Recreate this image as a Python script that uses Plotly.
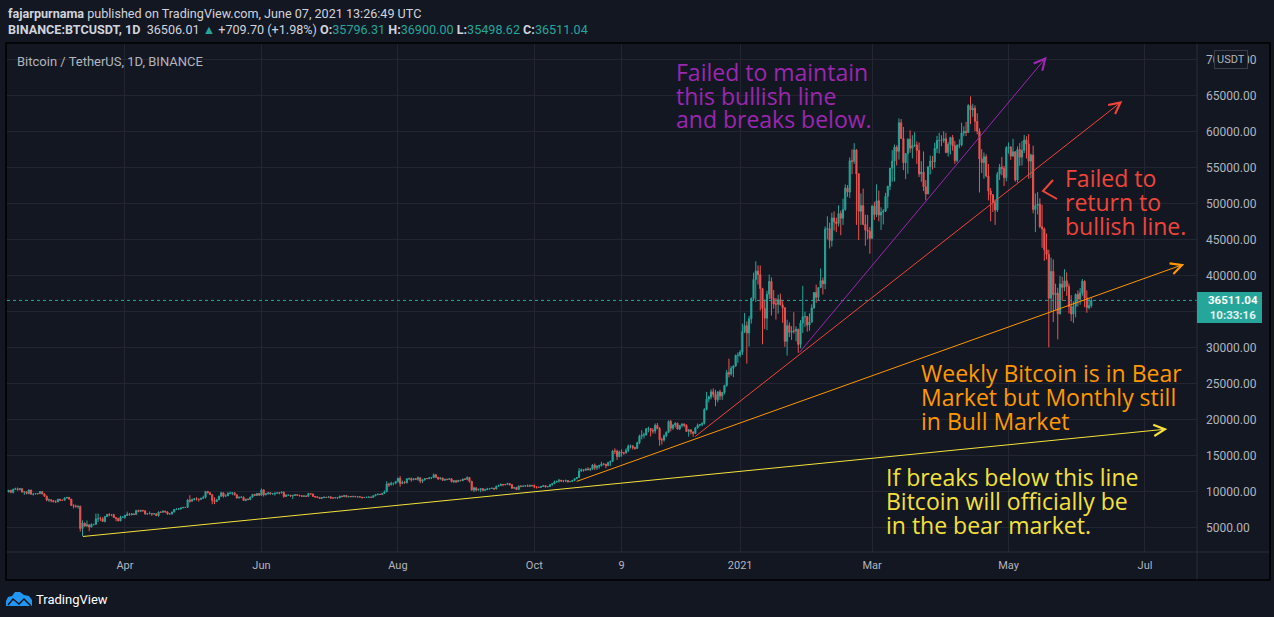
import pandas as pd
import plotly.graph_objects as go

# BINANCE:BTCUSDT daily candles, 2020-02-09 .. 2021-06-07
first_open = 9900

close_2020 = [
    10150, 9860, 10270, 10350, 10240, 10370, 9900, 9930, 9700, 10180, 9600, 9610, 9690, 9670, 9970, 9650, 9320, 8790, 8810, 8710, 8530,
    8520, 8910, 8760, 8750, 9070, 9160, 8910, 8030, 7930, 7890, 7940, 4830, 5580, 5170, 5360, 5030, 5390, 5410, 6160, 6200, 6190, 5820, 6480, 6770, 6700, 6740, 6350, 6250, 5880, 6390, 6410,
    6640, 6800, 6730, 6860, 6770, 7340, 7200, 7370, 7300, 6860, 6890, 6910, 6860, 6870, 6620, 7120, 7100, 7260, 7130, 6840, 6850, 7130, 7480, 7510, 7540, 7700, 7770, 7760, 8780, 8620,
    8830, 8970, 8900, 8880, 9030, 9150, 9990, 9810, 9540, 8730, 8560, 8810, 9310, 9790, 9320, 9380, 9680, 9730, 9790, 9510, 9060, 9170, 9180, 8720, 8900, 8840, 9200, 9580, 9430, 9700, 9450,
    10200, 9520, 9670, 9790, 9620, 9670, 9750, 9780, 9770, 9880, 9270, 9470, 9470, 9340, 9430, 9520, 9460, 9390, 9310, 9360, 9290, 9690, 9630, 9300, 9240, 9160, 9010, 9120, 9190, 9140,
    9230, 9090, 9060, 9130, 9080, 9340, 9250, 9430, 9230, 9290, 9240, 9300, 9240, 9250, 9200, 9130, 9150, 9170, 9210, 9160, 9390, 9540, 9610, 9550, 9710, 9930, 11030, 10910, 11100, 11110, 11350,
    11800, 11070, 11230, 11190, 11740, 11760, 11600, 11750, 11680, 11880, 11400, 11580, 11780, 11770, 11860, 11910, 12290, 11960, 11730, 11860, 11520, 11680, 11650, 11750, 11330, 11460, 11320, 11530, 11470, 11710, 11660,
    11920, 11390, 10170, 10470, 10170, 10250, 10370, 10130, 10230, 10340, 10390, 10440, 10330, 10680, 10790, 10950, 10940, 10930, 11080, 10920, 10420, 10540, 10240, 10750, 10700, 10730, 10770, 10690, 10840, 10780,
    10620, 10570, 10550, 10670, 10790, 10600, 10670, 10920, 11050, 11300, 11380, 11540, 11430, 11430, 11500, 11320, 11370, 11510, 11750, 11910, 12820, 12990, 12930, 13110, 13030, 13070, 13640, 13280, 13460, 13560, 13800,
    13760, 13550, 14030, 14150, 15590, 15580, 14830, 15480, 15330, 15310, 15700, 16290, 16320, 16070, 15960, 16730, 17660, 17800, 17820, 18680, 18710, 18420, 18370, 19160, 18720, 17150, 17140, 17720, 18180, 19700,
    18770, 19220, 19450, 18650, 19150, 19360, 19170, 18320, 18550, 18250, 18040, 18800, 19170, 19270, 19430, 21340, 22800, 23110, 23820, 23460, 22720, 23820, 23240, 23730, 24710, 26490, 26280, 27080, 27390, 28880, 28920,
]
high_2020 = [
    10180, 10170, 10390, 10500, 10520, 10390, 10380, 10050, 9970, 10250, 10200, 9700, 9740, 9720, 10000, 9980, 9680, 9390, 8990, 8890, 8800,
    8750, 8930, 8930, 8840, 9160, 9190, 9170, 8940, 8200, 8150, 7990, 7970, 5960, 5650, 5940, 5370, 5550, 5450, 6900, 6900, 6460, 6390, 6590, 6860, 6960, 6780, 6880, 6360, 6270, 6600, 6520,
    6740, 7170, 7000, 6990, 6910, 7380, 7460, 7390, 7380, 7330, 6940, 7190, 6910, 6990, 6930, 7200, 7150, 7300, 7270, 7220, 6950, 7160, 7540, 7620, 7690, 7720, 7800, 7800, 8950, 9460,
    9000, 9010, 9190, 8960, 9100, 9400, 10000, 10030, 9920, 9580, 9170, 8950, 9400, 9930, 9850, 9590, 9890, 9950, 9900, 9840, 9560, 9270, 9310, 9300, 8980, 9010, 9230, 9620, 9600, 9740, 9700,
    10390, 10230, 9680, 9880, 9850, 9730, 9800, 9810, 9880, 9990, 9960, 9560, 9500, 9490, 9500, 9590, 9550, 9480, 9440, 9400, 9410, 9780, 9690, 9680, 9330, 9290, 9200, 9200, 9240, 9200,
    9300, 9270, 9130, 9200, 9140, 9370, 9370, 9450, 9440, 9310, 9300, 9340, 9340, 9280, 9280, 9210, 9190, 9200, 9240, 9220, 9420, 9560, 9650, 9630, 9750, 10110, 11400, 11200, 11330, 11180, 11450,
    11900, 12120, 11480, 11420, 11790, 11900, 11920, 11810, 11810, 12080, 11950, 11680, 11800, 11840, 11980, 11940, 12480, 12400, 12000, 11890, 11880, 11700, 11720, 11810, 11780, 11540, 11590, 11560, 11600, 11730, 11800,
    12070, 11950, 11460, 10650, 10580, 10380, 10390, 10440, 10350, 10480, 10400, 10480, 10460, 10800, 10940, 11100, 11030, 11040, 11190, 11080, 10990, 10570, 10560, 10780, 10770, 10780, 10800, 10950, 10860, 10850,
    10950, 10670, 10600, 10690, 10800, 10800, 10690, 10950, 11100, 11490, 11440, 11720, 11560, 11560, 11630, 11540, 11420, 11520, 11820, 11960, 13220, 13170, 13020, 13150, 13350, 13250, 13790, 13860, 13640, 13690, 14100,
    13900, 13820, 14070, 14250, 15750, 15970, 15770, 15650, 15840, 15480, 15970, 16480, 16480, 16350, 16180, 16880, 17860, 18480, 18140, 18770, 18960, 18750, 18770, 19420, 19480, 18920, 17450, 17890, 18340, 19860,
    19920, 19300, 19600, 19520, 19160, 19420, 19400, 19290, 18640, 18550, 18300, 18950, 19410, 19350, 19570, 21560, 23800, 23290, 24170, 24300, 24100, 23840, 24100, 23800, 24790, 26870, 28420, 27390, 27500, 28990, 29300,
]
low_2020 = [
    9860, 9730, 9700, 10210, 10090, 10150, 9820, 9500, 9580, 9580, 9560, 9410, 9570, 9570, 9630, 9560, 9250, 8620, 8530, 8470, 8500,
    8410, 8500, 8610, 8650, 8740, 9010, 8860, 8000, 7630, 7730, 7590, 4410, 3780, 5080, 5100, 4440, 5000, 5250, 5350, 5740, 5870, 5770, 5690, 6450, 6530, 6540, 6300, 5860, 5860, 5870, 6310,
    6170, 6600, 6650, 6680, 6740, 6760, 7090, 7110, 7170, 6750, 6770, 6790, 6580, 6780, 6600, 6470, 7010, 7050, 7070, 6750, 6790, 6790, 7070, 7420, 7450, 7500, 7650, 7690, 7720, 8420,
    8620, 8760, 8710, 8560, 8780, 8940, 9000, 9690, 9520, 8200, 8220, 8540, 8790, 9250, 9130, 9260, 9380, 9610, 9460, 9420, 8980, 9040, 9080, 8720, 8630, 8830, 8840, 9110, 9340, 9360, 9390,
    9410, 9260, 9450, 9530, 9570, 9530, 9400, 9640, 9580, 9720, 9100, 9240, 9390, 9250, 8920, 9370, 9390, 9280, 9220, 9200, 9280, 9280, 9560, 9210, 9080, 9050, 8990, 8950, 9070, 9080,
    9130, 8940, 9000, 9050, 8920, 9080, 9220, 9220, 9160, 9160, 9200, 9190, 9200, 9100, 9150, 9000, 9090, 9120, 9100, 9130, 9140, 9300, 9450, 9500, 9540, 9640, 9920, 10600, 10830, 10820, 10980,
    11220, 10650, 11020, 11070, 11090, 11550, 11330, 11530, 11560, 11460, 11120, 11150, 11500, 11680, 11680, 11690, 11830, 11820, 11560, 11650, 11500, 11520, 11530, 11590, 11240, 11140, 11150, 11300, 11430, 11460, 11600,
    11520, 11210, 10080, 9900, 10000, 10130, 9880, 9990, 10110, 10220, 10220, 10320, 10220, 10270, 10650, 10740, 10700, 10830, 10880, 10800, 10380, 10360, 10200, 10190, 10550, 10650, 10620, 10640, 10640, 10670,
    10440, 10380, 10480, 10490, 10620, 10530, 10580, 10620, 10790, 11050, 11200, 11220, 11290, 11250, 11260, 11220, 11300, 11330, 11400, 11680, 11900, 12720, 12730, 12890, 12880, 12810, 13000, 12940, 12980, 13140, 13430,
    13600, 13200, 13530, 13520, 14090, 15180, 14340, 14700, 14810, 15080, 15270, 15440, 15950, 15800, 15770, 15880, 16550, 17210, 17340, 17760, 18190, 17610, 18000, 18020, 18600, 16320, 16510, 16900, 17520, 18170,
    18320, 18530, 18860, 18580, 18500, 18860, 18900, 18220, 17600, 17910, 17570, 18020, 18730, 19000, 19050, 19280, 21240, 22350, 22770, 23060, 21820, 22350, 22700, 22700, 23450, 24500, 25820, 26060, 25850, 27320, 27850,
]

close_2021 = [
    29330, 32180, 33000, 31990, 33950, 36770, 39430, 40580, 40090, 38150, 35400, 34050, 37370, 39150, 36770, 36010, 35990, 36630, 35890, 35470, 30830, 33000, 32080, 32260, 32250, 32510, 30400, 33380, 34250, 34260, 33090,
    33500, 35470, 37620, 36940, 38290, 39260, 38830, 46400, 46490, 44840, 47970, 47410, 47190, 48580, 47930, 49150, 52120, 51550, 55910, 55840, 57410, 54090, 48890, 49680, 47070, 46280, 46110, 45140,
    49590, 48440, 50350, 48370, 48750, 48880, 50970, 52380, 54880, 55860, 57800, 57220, 61190, 59000, 55630, 56900, 58910, 57650, 58030, 58100, 57350, 54080, 54340, 52300, 51290, 55070, 55860, 55780, 57630, 58730, 58740,
    58720, 58970, 57060, 58200, 59130, 57990, 55950, 58080, 58090, 59780, 59990, 59830, 63580, 62960, 63200, 61380, 60000, 56150, 55660, 56470, 53800, 51700, 51190, 50100, 49070, 54030, 55030, 54820, 53560, 57700,
    57800, 56580, 57170, 53240, 57480, 56410, 57350, 58800, 58230, 55860, 56700, 49150, 49700, 49900, 46760, 46430, 43540, 42910, 36830, 40540, 37300, 37530, 34650, 38800, 38320, 39240, 38440, 35660, 34610, 35680, 37340,
    36690, 37570, 39190, 36850, 35520, 35796.31, 36511.04,
]
high_2021 = [
    29600, 33300, 34780, 33600, 34360, 36940, 40360, 41950, 41380, 41350, 38260, 36630, 37850, 40100, 39700, 37950, 36850, 37300, 37450, 36400, 35600, 33830, 33460, 32940, 34880, 32920, 32560, 33780, 38530, 34930, 34340,
    34720, 35980, 37660, 38710, 38310, 40950, 39700, 46780, 48200, 47310, 48680, 48880, 48000, 49710, 49000, 50650, 52620, 52530, 56370, 57490, 58350, 57530, 54180, 51370, 52040, 48420, 48390, 46700,
    49790, 50200, 52640, 51770, 49450, 49200, 51450, 52400, 54900, 57390, 58150, 58060, 61790, 61700, 60600, 56940, 58980, 60130, 59450, 59880, 58590, 58430, 55850, 57200, 53230, 55120, 56640, 56560, 58400, 59370, 59800,
    59460, 60000, 59790, 58500, 59250, 59480, 58650, 58150, 58880, 61200, 60690, 61300, 63770, 64850, 63820, 63600, 62500, 60400, 57520, 57050, 56800, 55460, 52130, 51230, 50550, 54360, 55460, 56430, 55200, 57960,
    58460, 57950, 58970, 57200, 57900, 58360, 58650, 59500, 59300, 59600, 56900, 58000, 51370, 51560, 50700, 49800, 46640, 45800, 43550, 42460, 42200, 38830, 38270, 39920, 39800, 40840, 40410, 38870, 37240, 36400, 37470,
    37900, 38230, 39480, 39290, 37900, 36790, 36900.00,
]
low_2021 = [
    28620, 28950, 31960, 27730, 30110, 33290, 36570, 36300, 38720, 35110, 30420, 32530, 32380, 36700, 34410, 35360, 33850, 34650, 35850, 33400, 30070, 28850, 31410, 31030, 31910, 30840, 29240, 29850, 31990, 32840, 32170,
    32300, 33420, 35360, 36160, 36570, 38220, 37350, 38060, 45000, 43730, 43990, 46200, 46000, 46790, 45570, 47000, 48950, 50900, 50760, 54050, 55480, 47000, 44890, 47000, 46960, 44110, 45000, 43000,
    45000, 47700, 48100, 47500, 46300, 47070, 48880, 49300, 51830, 53000, 53010, 55260, 56070, 58960, 54600, 53350, 54100, 57030, 56220, 57820, 55470, 53650, 53000, 51700, 50430, 51280, 54000, 54700, 54900, 57000, 56900,
    57930, 58390, 56960, 56500, 56800, 57300, 55470, 55700, 57650, 57900, 59300, 59350, 59800, 61000, 62020, 60000, 59580, 51500, 54200, 53400, 53620, 50400, 47500, 48800, 47000, 48800, 53250, 53880, 52400, 53050,
    56900, 56040, 56440, 53000, 52900, 55200, 55250, 56980, 56230, 53400, 53500, 48600, 46000, 48450, 46550, 43820, 42000, 42200, 30000, 34880, 33500, 35200, 31100, 34580, 36420, 37780, 37150, 34700, 33630, 33380, 34150,
    35670, 35920, 37170, 35570, 34800, 35250, 35498.62,
]

# axis ticks
tick_dates = ["2020-04-01", "2020-06-01", "2020-08-01", "2020-10-01", "2020-11-09",
              "2021-01-01", "2021-03-01", "2021-05-01", "2021-07-01"]
tick_text = ["Apr", "Jun", "Aug", "Oct", "9", "2021", "Mar", "May", "Jul"]
price_ticks = [5000, 10000, 15000, 20000, 25000, 30000, 35000, 40000, 45000,
               50000, 55000, 60000, 65000, 70000]

# drawn trend lines: (start date, start price, end date, end price, colour)
trend_lines = [
    ("2020-03-12 12:00", 3700, "2021-07-11", 18650, "#f5e13b"),
    ("2020-10-19 06:00", 11300, "2021-07-18 14:00", 41550, "#ff9800"),
    ("2020-12-11 05:00", 17440, "2021-06-20 21:00", 64200, "#f0453a"),
    ("2021-01-26 22:00", 29070, "2021-05-18 02:00", 70360, "#9c27b0"),
]

BG = "#131722"
GRID = "#232632"
GREEN = "#26a69a"
RED = "#ef5350"
AXIS_TXT = "#b2b5be"

closes = close_2020 + close_2021
highs = high_2020 + high_2021
lows = low_2020 + low_2021
opens = [first_open] + closes[:-1]
dates = list(pd.date_range("2020-02-09", periods=len(close_2020), freq="D")) + \
        list(pd.date_range("2021-01-01", periods=len(close_2021), freq="D"))

# plot area in pixels
L, T, W, H = 7, 44, 1190, 508


def px(x):
    return (x - L) / W


def py(y):
    return (T + H - y) / H


fig = go.Figure()

fig.add_trace(go.Candlestick(
    x=dates, open=opens, high=highs, low=lows, close=closes,
    increasing=dict(line=dict(color=GREEN, width=1), fillcolor=GREEN),
    decreasing=dict(line=dict(color=RED, width=1), fillcolor=RED),
    whiskerwidth=0, showlegend=False, hoverinfo="skip",
))

fig.update_layout(
    width=1274, height=617,
    margin=dict(l=L, r=1274 - L - W, t=T, b=617 - T - H),
    paper_bgcolor=BG, plot_bgcolor=BG,
    showlegend=False,
    font=dict(family="Roboto", color=AXIS_TXT, size=11),
    xaxis=dict(
        type="date", range=["2020-02-08 06:00", "2021-07-24 06:00"],
        rangeslider=dict(visible=False),
        tickvals=tick_dates, ticktext=tick_text,
        showgrid=True, gridcolor=GRID, gridwidth=1,
        zeroline=False, showline=False, ticks="",
        ticklabelstandoff=5,
        tickfont=dict(family="Roboto", size=11, color=AXIS_TXT),
    ),
    yaxis=dict(
        range=[1570, 72125], side="right",
        tickvals=price_ticks, ticktext=[f"{v:.2f}" for v in price_ticks],
        showgrid=True, gridcolor=GRID, gridwidth=1,
        zeroline=False, showline=False, ticks="",
        ticklabelstandoff=8,
        tickfont=dict(family="Roboto", size=12, color=AXIS_TXT),
    ),
)

# last price dotted line
fig.add_shape(type="line", xref="paper", yref="y", x0=0, x1=1,
              y0=closes[-1], y1=closes[-1],
              line=dict(color=GREEN, width=1, dash="dot"))

# chart frame and axis separators
fig.add_shape(type="line", xref="paper", yref="paper", x0=px(6), x1=px(1270),
              y0=py(552), y1=py(552), line=dict(color="#2a2e39", width=1))
fig.add_shape(type="line", xref="paper", yref="paper", x0=px(1197), x1=px(1197),
              y0=py(43), y1=py(580), line=dict(color="#2a2e39", width=1))
fig.add_shape(type="rect", xref="paper", yref="paper", x0=px(6), x1=px(1270),
              y0=py(43), y1=py(580), line=dict(color="#000000", width=1.5))

# trend lines with arrow heads
for x0, y0, x1, y1, col in trend_lines:
    fig.add_annotation(x=x1, y=y1, ax=x0, ay=y0, xref="x", yref="y",
                       axref="x", ayref="y", text="", showarrow=True,
                       arrowhead=5, arrowsize=2.2, arrowwidth=1, arrowcolor=col)

# annotation texts (left x, baselines in px)
note_font = "Open Sans"
blocks = [
    (["Failed to maintain", "this bullish line", "and breaks below."], 674, [79, 103, 127], "#9c27b0"),
    (["Failed to", "return to", "bullish line."], 1063, [185, 209, 233], "#f0453a"),
    (["Weekly Bitcoin is in Bear", "Market but Monthly still", "in Bull Market"], 919, [380, 404, 428], "#ff9800"),
    (["If breaks below this line", "Bitcoin will officially be", "in the bear market."], 884, [484, 508, 532], "#f5e13b"),
]
for lines, x0, bases, col in blocks:
    for line, b in zip(lines, bases):
        fig.add_annotation(x=px(x0), y=py(b - 7.5), xref="paper", yref="paper",
                           text=line, showarrow=False, xanchor="left", yanchor="middle",
                           font=dict(family=note_font, size=23, color=col))

# small red "<" arrow next to the red text
fig.add_shape(type="path", xref="paper", yref="paper",
              path=f"M{px(1053)},{py(180)} L{px(1043)},{py(191)} L{px(1057)},{py(199)}",
              line=dict(color="#f0453a", width=2))

# header
fig.add_annotation(x=px(6), y=py(13), xref="paper", yref="paper", showarrow=False,
                   xanchor="left", yanchor="middle",
                   text="<b>fajarpurnama</b> published on TradingView.com, June 07, 2021 13:26:49 UTC",
                   font=dict(family="Roboto", size=12.6, color="#d1d4dc"))
g = f"<span style='color:{GREEN}'>"
fig.add_annotation(x=px(6), y=py(29), xref="paper", yref="paper", showarrow=False,
                   xanchor="left", yanchor="middle",
                   text=(f"<b>BINANCE:BTCUSDT, 1D</b>  36506.01 {g}▲</span> +709.70 (+1.98%) "
                         f"<b>O:</b>{g}35796.31</span> <b>H:</b>{g}36900.00</span> "
                         f"<b>L:</b>{g}35498.62</span> <b>C:</b>{g}36511.04</span>"),
                   font=dict(family="Roboto", size=12.6, color="#d1d4dc"))
fig.add_annotation(x=px(15), y=py(61), xref="paper", yref="paper", showarrow=False,
                   xanchor="left", yanchor="middle", text="Bitcoin / TetherUS, 1D, BINANCE",
                   font=dict(family="Roboto", size=13, color=AXIS_TXT))

# price label on the axis
fig.add_shape(type="rect", xref="paper", yref="paper", x0=px(1197), x1=px(1262),
              y0=py(292), y1=py(323), fillcolor=GREEN, line=dict(width=0))
fig.add_annotation(x=px(1206), y=py(307.5), xref="paper", yref="paper", showarrow=False,
                   xanchor="left", yanchor="middle",
                   text="<b>36511.04</b><br><span style='color:#e3f2f1'><b>10:33:16</b></span>",
                   font=dict(family="Roboto", size=11.5, color="#ffffff"))

# currency badge
fig.add_annotation(x=px(1231), y=py(59.5), xref="paper", yref="paper", showarrow=False,
                   xanchor="center", yanchor="middle", text="USDT",
                   bgcolor=BG, bordercolor="#3a3e4a", borderwidth=1, borderpad=2,
                   font=dict(family="Roboto", size=11, color=AXIS_TXT))

# TradingView logo
cloud = [(6, 606), (6, 601), (8, 597), (12, 596), (15, 592), (20, 592), (24, 595),
         (29, 596), (32, 600), (32, 606)]
fig.add_shape(type="path", xref="paper", yref="paper",
              path="M" + " L".join(f"{px(a)},{py(b)}" for a, b in cloud) + " Z",
              fillcolor="#2196f3", line=dict(width=0))
zig = [(8, 605), (13, 599), (19, 604), (24, 599), (31, 606)]
fig.add_shape(type="path", xref="paper", yref="paper",
              path="M" + " L".join(f"{px(a)},{py(b)}" for a, b in zig),
              line=dict(color=BG, width=1.5))
fig.add_annotation(x=px(34), y=py(599), xref="paper", yref="paper", showarrow=False,
                   xanchor="left", yanchor="middle", text="TradingView",
                   font=dict(family="Roboto", size=13, color="#ffffff"))

fig.write_html("out.html", config={"displayModeBar": False},
               post_script="document.body.style.margin='0';")
